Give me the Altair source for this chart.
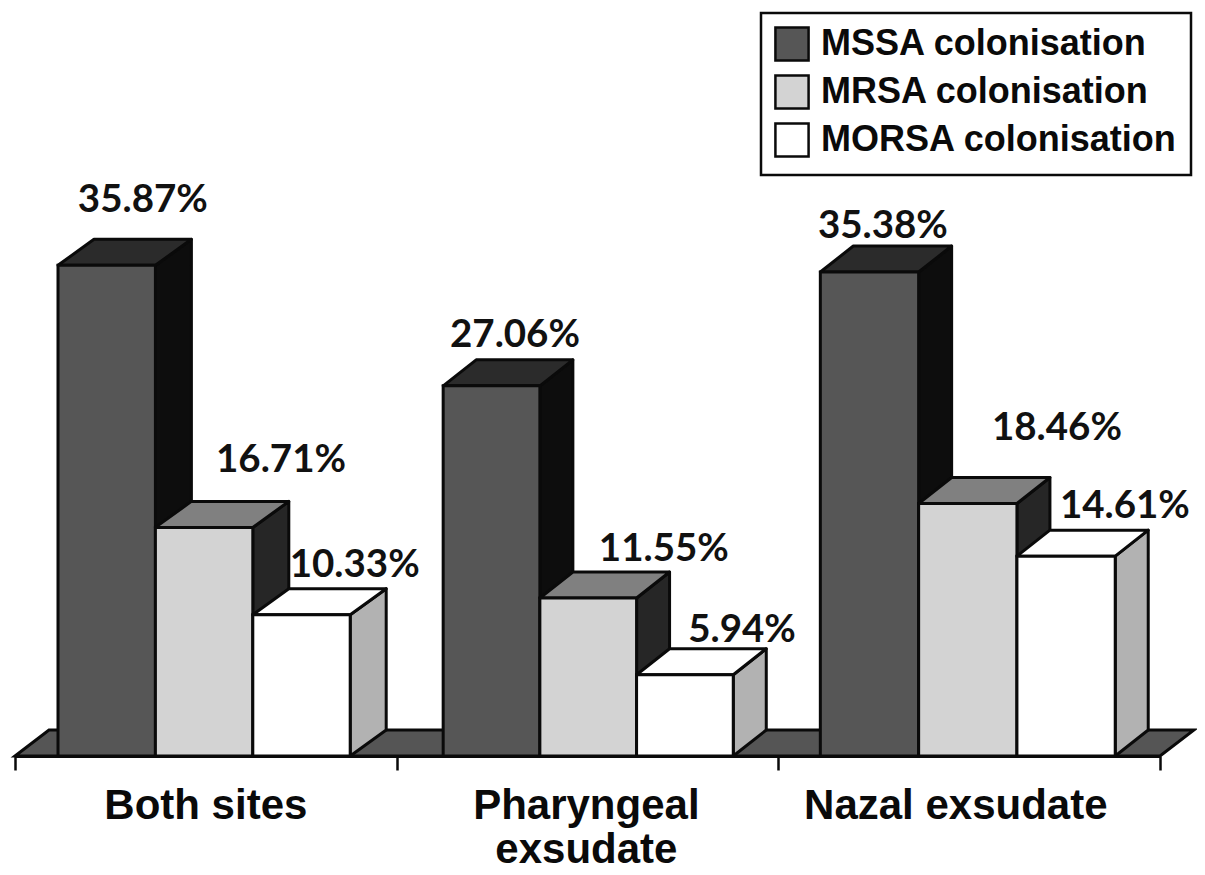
import altair as alt
import pandas as pd

categories = ["Both sites", "Pharyngeal\nexsudate", "Nazal exsudate"]
series = ["MSSA colonisation", "MRSA colonisation", "MORSA colonisation"]
mssa = [35.87, 27.06, 35.38]
mrsa = [16.71, 11.55, 18.46]
morsa = [10.33, 5.94, 14.61]
values = [mssa, mrsa, morsa]
labels = [["35.87%", "27.06%", "35.38%"], ["16.71%", "11.55%", "18.46%"], ["10.33%", "5.94%", "14.61%"]]

front_col = ["#565656", "#d3d3d3", "#ffffff"]
top_col = ["#2b2b2b", "#808080", "#ffffff"]
side_col = ["#0d0d0d", "#262626", "#b2b2b2"]
floor_col = "#555555"
line_col = "#0a0a0a"

# layout, in data units
PX_X = 1145 / 3
PX_Y = 13.68
DY = 26 / PX_Y
group_dx = [36 / PX_X, 33 / PX_X, 33 / PX_X]
group_bar = [97.4 / PX_X, 96.7 / PX_X, 98.3 / PX_X]
group_start = [43 / PX_X, 46.5 / PX_X, 42 / PX_X]
cat_x = [0.5, 1.497, 2.465]
label_x = [[0.335, 1.31, 2.274], [0.697, 1.70, 2.73], [0.89, 1.905, 2.908]]
label_y = [[40.65, 30.75, 38.75], [21.65, 15.1, 24.0], [13.95, 9.2, 18.25]]

scale_x = alt.Scale(domain=[0, 3], nice=False, zero=False)
scale_y = alt.Scale(domain=[0, 748 / PX_Y], nice=False, zero=False)
axis_x = alt.Axis(
    values=[0, 1, 2, 3], labels=False, title=None, grid=False, tickSize=14,
    tickColor=line_col, tickWidth=2.5, domainColor=line_col, domainWidth=3, zindex=1)
X = alt.X("x:Q", scale=scale_x, axis=axis_x)
Y = alt.Y("y:Q", scale=scale_y, axis=None, stack=None)
Y2 = alt.Y2("y2:Q")

floor_dx = 34 / PX_X
floor_df = pd.DataFrame({
    "x": [0, floor_dx, 3, 3 + floor_dx],
    "y": [0, DY, DY, DY],
    "y2": [0, 0, 0, DY],
})
floor = alt.Chart(floor_df).mark_area(fill=floor_col, stroke=line_col, strokeWidth=3).encode(
    x=X, y=Y, y2=Y2,
)

layers = [floor]
for s, name in enumerate(series):
    tops, sides, fronts = [], [], []
    for g in range(3):
        v = values[s][g]
        bar = group_bar[g]
        dx = group_dx[g]
        x0 = g + group_start[g] + s * bar
        x1 = x0 + bar
        fronts.append({"x": x0, "x2": x1, "y": v, "y2": 0, "series": name})
        for x, y, y2 in [(x0, v, v), (x0 + dx, v + DY, v), (x1, v + DY, v), (x1 + dx, v + DY, v + DY)]:
            tops.append({"x": x, "y": y, "y2": y2, "g": g})
        for x, y, y2 in [(x1, v, 0), (x1 + dx, v + DY, DY)]:
            sides.append({"x": x, "y": y, "y2": y2, "g": g})
    side = alt.Chart(pd.DataFrame(sides)).mark_area(
        fill=side_col[s], stroke=line_col, strokeWidth=3, strokeJoin="round"
    ).encode(x=X, y=Y, y2=Y2, detail="g:N")
    top = alt.Chart(pd.DataFrame(tops)).mark_area(
        fill=top_col[s], stroke=line_col, strokeWidth=3, strokeJoin="round"
    ).encode(x=X, y=Y, y2=Y2, detail="g:N")
    front = alt.Chart(pd.DataFrame(fronts)).mark_rect(stroke=line_col, strokeWidth=3).encode(
        x=X, x2="x2:Q", y=Y, y2=Y2,
        fill=alt.Fill("series:N", scale=alt.Scale(domain=series, range=front_col), legend=alt.Legend(
            title=None, orient="none", legendX=746, legendY=5, symbolType="square",
            symbolSize=1100, symbolStrokeColor=line_col, symbolStrokeWidth=2.5, symbolOpacity=1,
            labelFont="Liberation Sans", labelFontWeight="bold", labelFontSize=36,
            labelColor="#0a0a0a", labelOffset=11, labelLimit=500, rowPadding=4,
            padding=13, strokeColor=line_col, fillColor="#ffffff", values=series)),
    )
    layers += [side, top, front]

label_rows = [{"x": label_x[s][g], "y": label_y[s][g], "t": labels[s][g]} for s in range(3) for g in range(3)]
pct = alt.Chart(pd.DataFrame(label_rows)).mark_text(
    font="Lato", fontWeight="bold", fontSize=38.5, color="#111111", align="center", baseline="middle"
).encode(x=X, y=Y, text="t:N")
cat = alt.Chart(pd.DataFrame({"x": cat_x, "y": [-2.2] * 3, "t": categories})).mark_text(
    font="Liberation Sans", fontWeight="bold", fontSize=42, color="#0a0a0a", align="center",
    baseline="top", lineBreak="\n", lineHeight=44
).encode(x=X, y=Y, text="t:N")
layers += [pct, cat]

chart = alt.layer(*layers).properties(
    width=1145, height=748,
    padding={"left": 7, "top": 0, "right": 37, "bottom": 119},
    autosize=alt.AutoSizeParams(type="none"),
).configure_view(stroke=None).configure_legend(strokeWidth=2.5)

chart.save("out.html", embed_options={"renderer": "svg", "actions": False})
